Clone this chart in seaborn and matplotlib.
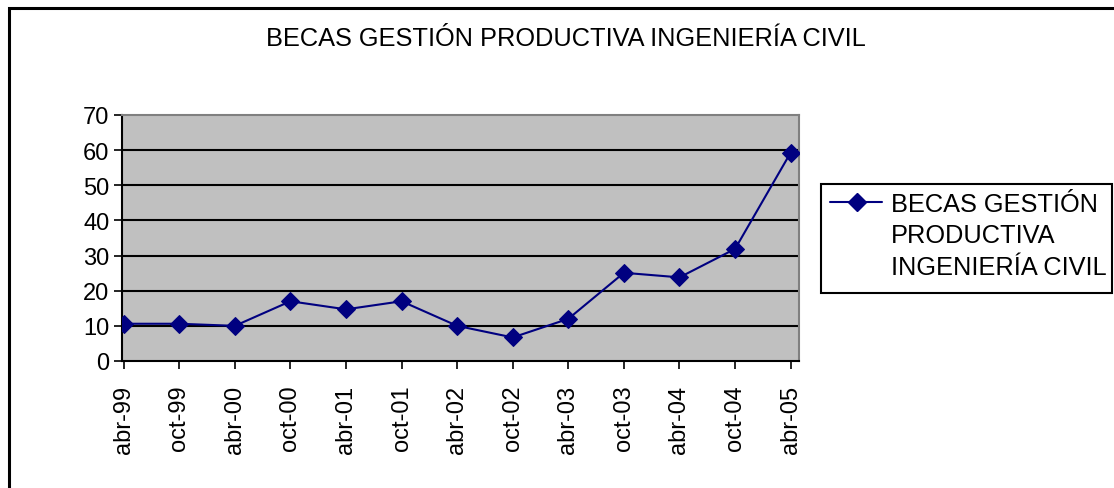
import matplotlib
matplotlib.use("Agg")
import matplotlib.pyplot as plt
import seaborn as sns
import pandas as pd
from matplotlib.patches import Rectangle
from matplotlib.lines import Line2D

periods = ["abr-99", "oct-99", "abr-00", "oct-00", "abr-01", "oct-01", "abr-02",
           "oct-02", "abr-03", "oct-03", "abr-04", "oct-04", "abr-05"]
becas = [10.6, 10.6, 10.0, 17.0, 14.7, 17.0, 10.0, 6.7, 12.0, 25.1, 23.8, 31.9, 59.3]
legend_lines = ["BECAS GESTIÓN", "PRODUCTIVA", "INGENIERÍA CIVIL"]
title = "BECAS GESTIÓN PRODUCTIVA INGENIERÍA CIVIL"
y_ticks = [0, 10, 20, 30, 40, 50, 60, 70]

sns.set_theme(style="white")
plt.rcParams['font.family'] = ['Liberation Sans', 'DejaVu Sans']
plt.rcParams['text.color'] = 'black'

W, H = 1114, 489
fig = plt.figure(figsize=(W / 100, H / 100), dpi=100)
fig.patch.set_facecolor("white")
ax = fig.add_axes([122 / W, 1 - 362 / H, (799 - 122) / W, (362 - 116) / H])
ax.set_facecolor("#C0C0C0")

LINE_COLOR = "#000080"
df = pd.DataFrame({"pos": range(len(periods)), "val": becas})
sns.lineplot(data=df, x="pos", y="val", ax=ax, color=LINE_COLOR, linewidth=1.5,
             marker="D", markersize=9, markeredgecolor=LINE_COLOR,
             legend=False, zorder=5)

ax.set_ylim(0, 70)
ax.set_xlim(-0.03, 12.15)
ax.set_yticks(y_ticks)
ax.set_yticklabels([str(v) for v in y_ticks], fontsize=17)
ax.set_xticks(range(len(periods)))
ax.set_xticklabels(periods, rotation=90, fontsize=17)
for v in y_ticks[1:-1]:
    ax.axhline(v, color="black", linewidth=1.5, zorder=1)
ax.set_xlabel("")
ax.set_ylabel("")
ax.tick_params(axis="both", which="both", direction="out", length=6, width=1.2,
               color="black", bottom=True, left=True, labelcolor="black")
ax.tick_params(axis="y", pad=3)
ax.tick_params(axis="x", pad=11)
for s in ["left", "bottom"]:
    ax.spines[s].set_color("black")
    ax.spines[s].set_linewidth(1.5)
for s in ["top", "right"]:
    ax.spines[s].set_color("#808080")
    ax.spines[s].set_linewidth(1.5)

# title
fig.text(566 / W, 1 - 46 / H, title, ha="center", va="baseline", fontsize=18.3, color="black")

# legend (box, sample line, text)
fig.patches.append(Rectangle((821 / W, 1 - 294 / H), (1112 - 821) / W, (294 - 185) / H,
                             transform=fig.transFigure, facecolor="white",
                             edgecolor="black", linewidth=1.5))
fig.lines.append(Line2D([830 / W, 882 / W], [1 - 203 / H, 1 - 203 / H], transform=fig.transFigure,
                        color=LINE_COLOR, linewidth=1.5))
fig.lines.append(Line2D([857 / W], [1 - 203 / H], transform=fig.transFigure,
                        color=LINE_COLOR, marker="D", markersize=9, linestyle="none"))
for txt, base in zip(legend_lines, [212, 243.5, 275]):
    fig.text(891 / W, 1 - base / H, txt, ha="left", va="baseline", fontsize=18.3, color="black")

# chart-area border
fig.patches.append(Rectangle((9 / W, -0.1), 1.2, 1 - 9 / H + 0.1, transform=fig.transFigure,
                             fill=False, edgecolor="black", linewidth=2.2))

fig.savefig("out.png", dpi=100)
